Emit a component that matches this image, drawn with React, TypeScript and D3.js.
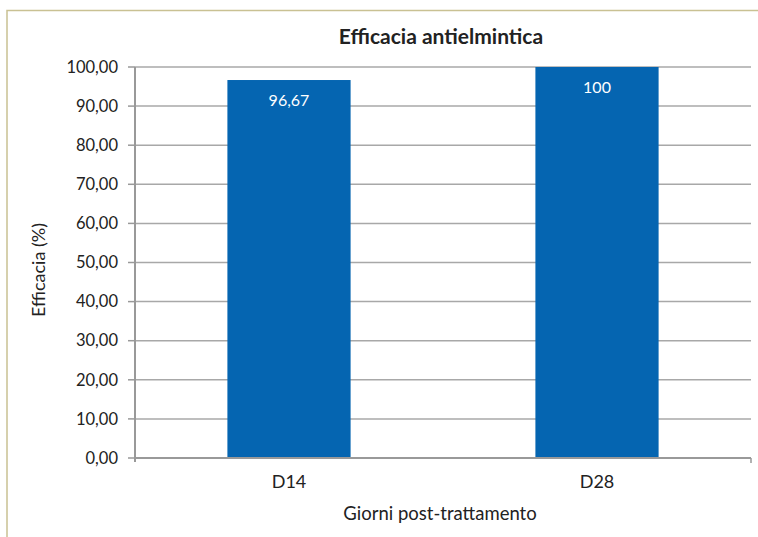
import React from "react";
import * as d3 from "d3";

const categories = ["D14", "D28"];
const values = [96.67, 100];
const valueLabels = ["96,67", "100"];
const yTicks = [0, 10, 20, 30, 40, 50, 60, 70, 80, 90, 100];

export default function App() {
	const width = 758;
	const height = 537;
	const marginLeft = 135;
	const marginRight = 7;
	const marginTop = 67;
	const plotBottom = 458;
	const font = "Lato, 'Open Sans', sans-serif";

	const x = d3
		.scaleBand<string>()
		.domain(categories)
		.range([marginLeft, width - marginRight]);

	const y = d3.scaleLinear().domain([0, 100]).range([plotBottom, marginTop]);

	const barWidth = x.bandwidth() * 0.4;
	const fmt = (v: number) => d3.format(".2f")(v).replace(".", ",");

	return (
		<svg
			width={width}
			height={height}
			style={{ position: "absolute", left: 0, top: 0, background: "#fff" }}
		>
			{/* outer border */}
			<path d={`M7,${height} V10.5 H${width}`} fill="none" stroke="#c9c193" strokeWidth={1.5} />

			<text x={441} y={44} textAnchor="middle" fontFamily={font} fontWeight="bold" fontSize={21} fill="#222">
				Efficacia antielmintica
			</text>

			{/* gridlines */}
			{yTicks.map((t) => (
				<line key={t} x1={marginLeft} x2={width - marginRight} y1={y(t)} y2={y(t)} stroke="#a8a8a8" strokeWidth={1.5} />
			))}

			{/* bars */}
			{categories.map((c, i) => {
				const cx = (x(c) || 0) + x.bandwidth() / 2;
				return (
					<g key={c}>
						<rect x={cx - barWidth / 2} y={y(values[i])} width={barWidth} height={plotBottom - y(values[i])} fill="#0565b1" />
						<text x={cx} y={y(values[i]) + 26} textAnchor="middle" fontFamily={font} fontSize={16} fill="#fff">
							{valueLabels[i]}
						</text>
						<text x={cx} y={plotBottom + 30} textAnchor="middle" fontFamily={font} fontSize={18} fill="#222">
							{c}
						</text>
					</g>
				);
			})}

			{/* axes */}
			<line x1={marginLeft} x2={marginLeft} y1={marginTop} y2={plotBottom + 4} stroke="#999" strokeWidth={2} />
			<line x1={marginLeft} x2={width - marginRight} y1={plotBottom} y2={plotBottom} stroke="#999" strokeWidth={2} />
			<line x1={width - marginRight} x2={width - marginRight} y1={plotBottom} y2={plotBottom + 5} stroke="#999" strokeWidth={1.5} />
			{yTicks.map((t) => (
				<g key={t}>
					<line x1={marginLeft - 7} x2={marginLeft} y1={y(t)} y2={y(t)} stroke="#999" strokeWidth={1.5} />
					<text x={118} y={y(t)} dy="0.35em" textAnchor="end" fontFamily={font} fontSize={16.5} fill="#222">
						{fmt(t)}
					</text>
				</g>
			))}

			<text
				transform={`translate(45, 270) rotate(-90)`}
				textAnchor="middle"
				fontFamily={font}
				fontSize={18}
				fill="#222"
			>
				Efficacia (%)
			</text>
			<text x={440} y={520} textAnchor="middle" fontFamily={font} fontSize={18.5} fill="#222">
				Giorni post-trattamento
			</text>
		</svg>
	);
}
